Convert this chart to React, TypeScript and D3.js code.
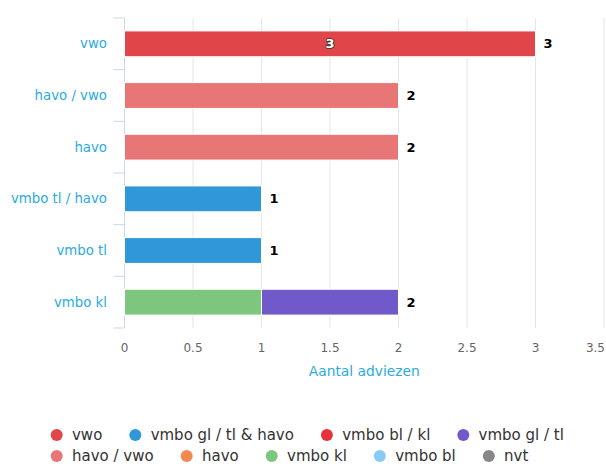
import React, { useEffect, useRef } from 'react';
import * as d3 from 'd3';

// categories on the y axis (top to bottom)
const categories = ['vwo', 'havo / vwo', 'havo', 'vmbo tl / havo', 'vmbo tl', 'vmbo kl'];

// series, in legend order
const seriesNames = ['vwo', 'vmbo gl / tl & havo', 'vmbo bl / kl', 'vmbo gl / tl', 'havo / vwo', 'havo', 'vmbo kl', 'vmbo bl', 'nvt'];
const seriesColors = ['#E04649', '#3097D9', '#E8303F', '#7159C9', '#E87676', '#F2894F', '#7DC67D', '#88CAF8', '#878787'];
const seriesValues = [
  [3, 0, 0, 0, 0, 0],
  [0, 0, 0, 1, 1, 0],
  [0, 0, 0, 0, 0, 0],
  [0, 0, 0, 0, 0, 1],
  [0, 2, 2, 0, 0, 0],
  [0, 0, 0, 0, 0, 0],
  [0, 0, 0, 0, 0, 1],
  [0, 0, 0, 0, 0, 0],
  [0, 0, 0, 0, 0, 0],
];
// series that show their own value inside the bar
const labelledSeries = ['vwo'];

const xTicks = [0, 0.5, 1, 1.5, 2, 2.5, 3, 3.5];
const xTitle = 'Aantal adviezen';

const W = 606, H = 466;
const margin = { top: 18, right: 2, bottom: 138, left: 124.5 };
const FONT = '"DejaVu Sans", Verdana, sans-serif';

export default function App() {
  const ref = useRef<SVGSVGElement>(null);

  useEffect(() => {
    const svg = d3.select(ref.current);
    svg.selectAll('*').remove();

    const w = W - margin.left - margin.right;
    const h = H - margin.top - margin.bottom;

    const x = d3.scaleLinear().domain([0, 3.5]).range([0, w]);
    const y = d3.scaleBand().domain(categories).range([0, h]).paddingInner(0.5).paddingOuter(0.25);
    const yStep = d3.scaleBand().domain(categories).range([0, h]);

    const g = svg.append('g').attr('transform', `translate(${margin.left}, ${margin.top})`);

    // grid lines
    g.selectAll('.grid').data(xTicks.slice(1)).join('line').attr('class', 'grid')
      .attr('x1', d => x(d)).attr('x2', d => x(d)).attr('y1', 0).attr('y2', h)
      .attr('stroke', '#e6e6e6').attr('stroke-width', 1);

    // x tick labels (last one kept inside the chart)
    g.selectAll('.xtick').data(xTicks).join('text').attr('class', 'xtick')
      .attr('x', (d, i) => (i === xTicks.length - 1 ? W - margin.left - 1 : x(d))).attr('y', h + 24)
      .attr('text-anchor', (d, i) => (i === xTicks.length - 1 ? 'end' : 'middle'))
      .style('font-family', FONT).style('font-size', '12px')
      .attr('fill', '#666666').text(d => String(d));

    g.append('text').attr('x', w / 2).attr('y', h + 48).attr('text-anchor', 'middle')
      .style('font-family', FONT).style('font-size', '13.8px').attr('fill', '#2AABE2').text(xTitle);

    // y axis line and ticks
    g.append('line').attr('x1', 0).attr('x2', 0).attr('y1', 0).attr('y2', h)
      .attr('stroke', '#ccd6eb').attr('stroke-width', 1);
    const bounds = categories.map(c => yStep(c) as number).concat([h]);
    g.selectAll('.ytickmark').data(bounds).join('line').attr('class', 'ytickmark')
      .attr('x1', -11).attr('x2', 0).attr('y1', d => d).attr('y2', d => d)
      .attr('stroke', '#ccd6eb').attr('stroke-width', 1);
    g.selectAll('.ylabel').data(categories).join('text').attr('class', 'ylabel')
      .attr('x', -17.5).attr('y', d => (yStep(d) as number) + yStep.bandwidth() / 2)
      .attr('dy', '0.35em').attr('text-anchor', 'end')
      .style('font-family', FONT).style('font-size', '13.3px').attr('fill', '#2AABE2').text(d => d);

    // stacked bars: later series sit closest to the axis
    const totals = categories.map(() => 0);
    const segs: { s: number; c: number; x0: number; x1: number }[] = [];
    for (let s = seriesNames.length - 1; s >= 0; s--) {
      seriesValues[s].forEach((v, c) => {
        if (v > 0) {
          segs.push({ s, c, x0: totals[c], x1: totals[c] + v });
          totals[c] += v;
        }
      });
    }

    g.selectAll('.bar').data(segs).join('rect').attr('class', 'bar')
      .attr('x', d => x(d.x0)).attr('width', d => x(d.x1) - x(d.x0))
      .attr('y', d => y(categories[d.c]) as number).attr('height', y.bandwidth())
      .attr('fill', d => seriesColors[d.s]).attr('stroke', '#ffffff').attr('stroke-width', 1);

    // inside labels
    g.selectAll('.inlabel').data(segs.filter(d => labelledSeries.includes(seriesNames[d.s]))).join('text')
      .attr('class', 'inlabel')
      .attr('x', d => x((d.x0 + d.x1) / 2)).attr('y', d => (y(categories[d.c]) as number) + y.bandwidth() / 2)
      .attr('dy', '0.35em').attr('text-anchor', 'middle')
      .style('font-family', FONT).style('font-size', '13px').style('font-weight', 'bold')
      .attr('fill', '#ffffff').attr('stroke', '#333333').attr('stroke-width', 1.6)
      .style('paint-order', 'stroke').text(d => String(d.x1 - d.x0));

    // stack totals
    g.selectAll('.total').data(categories).join('text').attr('class', 'total')
      .attr('x', (d, i) => x(totals[i]) + 8).attr('y', d => (y(d) as number) + y.bandwidth() / 2)
      .attr('dy', '0.35em').style('font-family', FONT).style('font-size', '13px').style('font-weight', 'bold')
      .attr('fill', '#000000').attr('stroke', '#ffffff').attr('stroke-width', 2).style('paint-order', 'stroke')
      .text((d, i) => String(totals[i]));

    // legend (flow layout)
    const lg = svg.append('g');
    let lx = 50.7, ly = 435;
    const rowH = 21, maxX = 595;
    seriesNames.forEach((name, i) => {
      const item = lg.append('g');
      const t = item.append('text').attr('x', 21.3).attr('y', 0).attr('dy', '0.35em')
        .style('font-family', FONT).style('font-size', '15px').attr('fill', '#333333').text(name);
      const tw = (t.node() as SVGTextElement).getComputedTextLength();
      const iw = 21.3 + tw;
      if (lx + iw > maxX && lx > 51) { lx = 50.7; ly += rowH; }
      item.attr('transform', `translate(${lx}, ${ly})`);
      item.append('circle').attr('cx', 6).attr('cy', 0).attr('r', 6).attr('fill', seriesColors[i]);
      lx += iw + 27;
    });
  }, []);

  return (
    <svg ref={ref} width={W} height={H} style={{ position: 'absolute', left: 0, top: 0, background: '#fff' }} />
  );
}
